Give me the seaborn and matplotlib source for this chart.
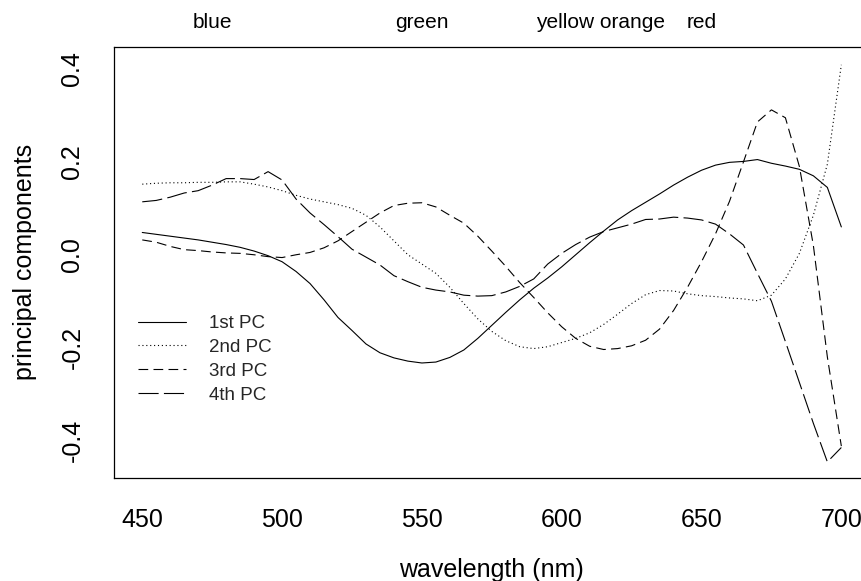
import numpy as np
import pandas as pd
import matplotlib
matplotlib.use("Agg")
import matplotlib.pyplot as plt
import matplotlib.transforms as mtransforms
import seaborn as sns

# Wavelength grid (nm) and the first four principal component loadings
wavelength = list(range(450, 701, 5))

pc1 = [0.048, 0.044, 0.040, 0.036, 0.032, 0.027, 0.022, 0.016, 0.008, -0.002,
       -0.015, -0.036, -0.062, -0.097, -0.135, -0.163, -0.192, -0.211, -0.222, -0.229,
       -0.233, -0.231, -0.221, -0.205, -0.180, -0.152, -0.124, -0.097, -0.072, -0.050,
       -0.026, 0.000, 0.026, 0.051, 0.075, 0.095, 0.113, 0.131, 0.150, 0.167,
       0.182, 0.193, 0.199, 0.201, 0.205, 0.197, 0.191, 0.184, 0.170, 0.145,
       0.060]

pc2 = [0.152, 0.154, 0.155, 0.155, 0.156, 0.156, 0.157, 0.157, 0.152, 0.146,
       0.138, 0.128, 0.120, 0.114, 0.108, 0.100, 0.085, 0.060, 0.030, 0.000,
       -0.020, -0.040, -0.070, -0.105, -0.138, -0.165, -0.185, -0.198, -0.202, -0.198,
       -0.189, -0.180, -0.168, -0.150, -0.128, -0.105, -0.086, -0.077, -0.078, -0.084,
       -0.088, -0.090, -0.093, -0.095, -0.099, -0.087, -0.052, 0.003, 0.085, 0.195,
       0.409]

pc3 = [0.032, 0.027, 0.018, 0.011, 0.009, 0.006, 0.004, 0.003, 0.000, -0.004,
       -0.006, 0.000, 0.005, 0.015, 0.030, 0.050, 0.070, 0.090, 0.106, 0.111,
       0.112, 0.103, 0.085, 0.068, 0.040, 0.008, -0.025, -0.060, -0.092, -0.125,
       -0.155, -0.180, -0.197, -0.204, -0.202, -0.196, -0.184, -0.160, -0.120, -0.070,
       -0.015, 0.045, 0.115, 0.200, 0.286, 0.312, 0.295, 0.190, 0.020, -0.220,
       -0.412]

pc4 = [0.114, 0.117, 0.124, 0.133, 0.138, 0.150, 0.164, 0.164, 0.162, 0.179,
       0.161, 0.120, 0.090, 0.065, 0.039, 0.012, -0.005, -0.022, -0.045, -0.058,
       -0.070, -0.076, -0.080, -0.087, -0.089, -0.088, -0.080, -0.068, -0.052, -0.020,
       0.003, 0.022, 0.038, 0.050, 0.058, 0.066, 0.076, 0.077, 0.081, 0.079,
       0.075, 0.066, 0.045, 0.021, -0.040, -0.100, -0.187, -0.275, -0.363, -0.446,
       -0.415]

component_names = ["1st PC", "2nd PC", "3rd PC", "4th PC"]

# Colour names written along the top margin, at their wavelengths
color_bands = ["blue", "green", "yellow orange", "red"]
color_band_nm = [475, 550, 614, 650]

x_ticks = [450, 500, 550, 600, 650, 700]
y_ticks = [-0.4, -0.2, 0.0, 0.2, 0.4]
y_tick_labels = ["-0.4", "-0.2", "0.0", "0.2", "0.4"]

long_df = pd.DataFrame({
    "wavelength": wavelength * 4,
    "loading": pc1 + pc2 + pc3 + pc4,
    "component": np.repeat(component_names, len(wavelength)),
})

sns.set_style("white")
plt.rcParams["font.family"] = ["Liberation Sans", "DejaVu Sans"]
plt.rcParams["lines.scale_dashes"] = False

fig = plt.figure(figsize=(8.61, 5.81), dpi=100)
W, H = 861.0, 581.0
ax = fig.add_axes([114.3 / W, 103.3 / H, 755.0 / W, 431.0 / H])

# solid, dotted, dashed, long-dashed (in points, unscaled)
dash_styles = ["", (0.8, 2.0), (7.0, 3.8), (14.5, 3.8)]

sns.lineplot(
    data=long_df, x="wavelength", y="loading",
    hue="component", style="component",
    palette=["black"] * 4, dashes=dash_styles,
    linewidth=0.8, ax=ax, legend=True,
)

ax.set_xlim(440, 710)
ax.set_ylim(-0.480, 0.448)
ax.set_xticks(x_ticks)
ax.set_yticks(y_ticks)
ax.set_yticklabels(y_tick_labels, rotation=90, va="center")

for side in ["left", "right", "top", "bottom"]:
    ax.spines[side].set_visible(True)
    ax.spines[side].set_color("black")
    ax.spines[side].set_linewidth(0.9)

ax.tick_params(axis="both", direction="out", length=5.0, width=0.75,
               color="black", labelsize=18, labelcolor="black")
ax.tick_params(axis="x", pad=16.5)
ax.tick_params(axis="y", pad=16.5)

ax.set_xlabel("wavelength (nm)", fontsize=18, color="black")
ax.set_ylabel("principal components", fontsize=18, color="black")
ax.xaxis.set_label_coords(0.5, -0.186)
ax.yaxis.set_label_coords((25 - 114.3) / 755.0, 0.5)
ax.yaxis.label.set_va("center")

# colour band names above the plotting region
band_trans = mtransforms.blended_transform_factory(ax.transData, ax.transAxes)
for name, nm in zip(color_bands, color_band_nm):
    ax.text(nm, 1.0434, name, transform=band_trans, ha="center",
            va="baseline", fontsize=15, color="black", clip_on=False)

handles, labels = ax.get_legend_handles_labels()
ax.legend(handles, labels, loc="upper left",
          bbox_to_anchor=((137.7 - 114.3) / 755.0, (477.7 - 315.0) / 431.0),
          frameon=False, fontsize=13.5, handlelength=2.56, handletextpad=1.26,
          labelspacing=0.36, borderpad=0.0, borderaxespad=0.0)

fig.savefig("out.png", dpi=100)
